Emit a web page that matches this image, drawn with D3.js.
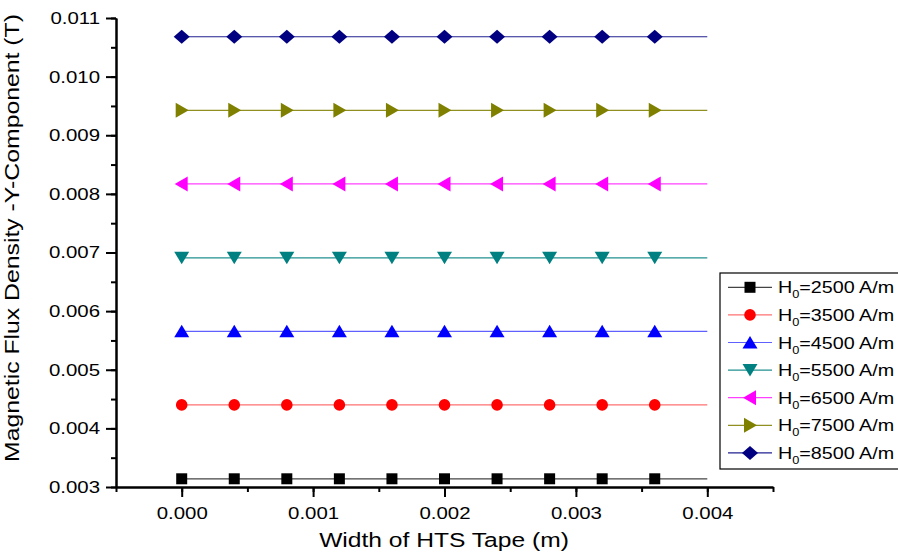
<!DOCTYPE html>
<html><head><meta charset="utf-8">
<script src="https://cdn.jsdelivr.net/npm/d3@7"></script>
<style>
body{margin:0;background:#fff;}
text{font-family:"Liberation Sans",Arial,sans-serif;fill:#000;}
</style></head>
<body>
<svg id="chart" width="898" height="556"></svg>
<script>
const xPoints = [0, 0.0004, 0.0008, 0.0012, 0.0016, 0.002, 0.0024, 0.0028, 0.0032, 0.0036, 0.004];
const fields = [2500, 3500, 4500, 5500, 6500, 7500, 8500];
const bValues = [0.00314, 0.00440, 0.005655, 0.00691, 0.00817, 0.009425, 0.01068];
const colors = ["#000000", "#ff0000", "#0000ff", "#008080", "#ff00ff", "#808000", "#000080"];
const lineColors = ["#444444", "#ff7070", "#6060ff", "#209090", "#ff40ff", "#909020", "#202090"];
const shapes = ["square", "circle", "up", "down", "left", "right", "diamond"];
const xTicks = [0, 0.001, 0.002, 0.003, 0.004];
const yTicks = [0.003, 0.004, 0.005, 0.006, 0.007, 0.008, 0.009, 0.010, 0.011];

const svg = d3.select("#chart");
const x = d3.scaleLinear().domain([-0.0005, 0.0045]).range([116, 773]);
const y = d3.scaleLinear().domain([0.003, 0.011]).range([487, 18]);

function stretch(sel, f){
  sel.each(function(){
    const L = this.getComputedTextLength();
    d3.select(this).attr("textLength", L*f).attr("lengthAdjust","spacingAndGlyphs");
  });
}

function shapePath(s){
  switch(s){
    case "square": return "M-5.5,-5.5H5.5V5.5H-5.5Z";
    case "circle": return "M-5.8,0A5.8,5.8 0 1,0 5.8,0A5.8,5.8 0 1,0 -5.8,0Z";
    case "up": return "M0,-6.5L7.5,6L-7.5,6Z";
    case "down": return "M0,6.5L7.5,-6L-7.5,-6Z";
    case "left": return "M-7,0L6,-7.5L6,7.5Z";
    case "right": return "M7,0L-6,-7.5L-6,7.5Z";
    case "diamond": return "M-8,0L0,-7L8,0L0,7Z";
  }
}

// series
fields.forEach((f,i)=>{
  const pts = xPoints.map(xv=>({x:xv, y:bValues[i]}));
  svg.append("path").datum(pts)
    .attr("fill","none").attr("stroke",lineColors[i]).attr("stroke-width",1.2)
    .attr("d", d3.line().x(d=>x(d.x)).y(d=>y(d.y)));
  svg.selectAll(null).data(pts.slice(0,10)).enter().append("path")
    .attr("d", shapePath(shapes[i]))
    .attr("fill", colors[i])
    .attr("transform", d=>`translate(${x(d.x)},${y(d.y)})`);
});

// axes
const xMinor = d3.range(-0.0005, 0.0045001, 0.0005).map(v=>+v.toFixed(5));
const yMinor = d3.range(0.003, 0.0110001, 0.0005).map(v=>+v.toFixed(5));
const xg = svg.append("g").attr("transform","translate(0,487)");
xg.call(d3.axisBottom(x).tickValues(xMinor).tickSize(5).tickFormat(""));
xg.call(g=>g.selectAll(".tick line").attr("stroke-width",2));
const xg2 = svg.append("g").attr("transform","translate(0,487)");
xg2.call(d3.axisBottom(x).tickValues(xTicks).tickSize(10).tickSizeOuter(0).tickPadding(10).tickFormat(d3.format(".3f")));
xg2.select(".domain").attr("stroke-width",2.5);
xg2.selectAll(".tick line").attr("stroke-width",2);
xg2.selectAll(".tick text").attr("font-size",17).attr("font-family","Liberation Sans, Arial, sans-serif").call(stretch,1.2);

const yg = svg.append("g").attr("transform","translate(116,0)");
yg.call(d3.axisLeft(y).tickValues(yMinor).tickSize(5).tickFormat(""));
yg.call(g=>g.selectAll(".tick line").attr("stroke-width",2));
const yg2 = svg.append("g").attr("transform","translate(116,0)");
yg2.call(d3.axisLeft(y).tickValues(yTicks).tickSize(10).tickSizeOuter(0).tickPadding(6).tickFormat(d3.format(".3f")));
yg2.select(".domain").attr("stroke-width",2.5);
yg2.selectAll(".tick line").attr("stroke-width",2);
yg2.selectAll(".tick text").attr("font-size",17).attr("font-family","Liberation Sans, Arial, sans-serif").call(stretch,1.2);
svg.selectAll(".domain").attr("stroke","#000");

// titles
svg.append("text").attr("x",444).attr("y",547).attr("text-anchor","middle")
  .attr("font-size",20.5).text("Width of HTS Tape (m)").call(stretch,1.2);
svg.append("text").attr("transform","translate(19,462) rotate(-90)").attr("text-anchor","start")
  .attr("font-size",20.5).attr("textLength",448).attr("lengthAdjust","spacingAndGlyphs")
  .text("Magnetic Flux Density -Y-Component (T)");

// legend
const lg = svg.append("g");
lg.append("rect").attr("x",720).attr("y",273).attr("width",190).attr("height",196)
  .attr("fill","#fff").attr("stroke","#000").attr("stroke-width",1.2);
fields.forEach((f,i)=>{
  const cy = 287.3 + i*27.6;
  lg.append("line").attr("x1",728).attr("x2",772).attr("y1",cy).attr("y2",cy)
    .attr("stroke",lineColors[i]).attr("stroke-width",1.2);
  lg.append("path").attr("d",shapePath(shapes[i])).attr("fill",colors[i])
    .attr("transform",`translate(750,${cy})`);
  const t = lg.append("text").attr("x",778).attr("y",cy+6).attr("font-size",17);
  t.append("tspan").text("H");
  t.append("tspan").attr("font-size",11).attr("dy",5).text("0");
  t.append("tspan").attr("dy",-5).text(`=${f} A/m`);
  t.call(stretch,1.16);
});
</script>
</body></html>
